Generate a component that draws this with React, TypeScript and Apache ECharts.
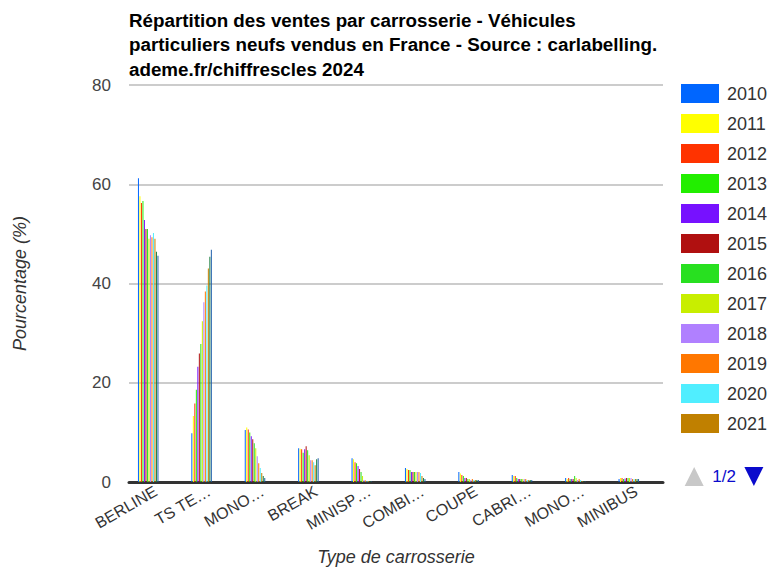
import React, { useEffect, useRef } from "react";
import * as echarts from "echarts";

const categories = [
  "BERLINE",
  "TS TERRAINS/CHEMINS",
  "MONOSPACE COMPACT",
  "BREAK",
  "MINISPACE",
  "COMBISPACES",
  "COUPE",
  "CABRIOLET",
  "MONOSPACE",
  "MINIBUS",
];

const years = ["2010", "2011", "2012", "2013", "2014", "2015", "2016", "2017", "2018", "2019", "2020", "2021", "2022", "2023"];

const v2010 = [61.2, 9.8, 10.5, 6.8, 4.8, 2.8, 2.0, 1.4, 0.8, 0.6];
const v2011 = [57.6, 13.3, 11.0, 6.7, 4.6, 2.6, 1.7, 1.2, 0.6, 0.8];
const v2012 = [56.2, 15.8, 10.6, 6.6, 4.0, 2.4, 1.4, 1.2, 0.8, 0.8];
const v2013 = [56.6, 18.6, 10.0, 5.9, 3.8, 2.4, 1.2, 0.8, 0.6, 0.6];
const v2014 = [52.8, 23.2, 9.2, 6.6, 3.2, 2.0, 0.8, 0.6, 0.6, 0.7];
const v2015 = [51.0, 25.9, 8.6, 7.2, 2.6, 2.0, 0.8, 0.6, 0.6, 0.8];
const v2016 = [51.0, 27.8, 7.8, 6.4, 2.0, 2.0, 0.6, 0.6, 1.2, 0.8];
const v2017 = [49.0, 32.4, 6.8, 5.4, 1.2, 2.0, 0.6, 0.6, 0.8, 0.8];
const v2018 = [49.7, 36.2, 5.2, 4.4, 0.4, 2.0, 0.4, 0.6, 0.4, 0.8];
const v2019 = [49.3, 38.4, 3.8, 4.4, 0.3, 2.0, 0.6, 0.6, 0.6, 0.6];
const v2020 = [50.2, 39.6, 2.8, 4.0, 0.2, 1.8, 0.4, 0.4, 0.4, 0.6];
const v2021 = [49.0, 43.0, 1.8, 3.4, 0.2, 1.2, 0.4, 0.4, 0.2, 0.6];
const v2022 = [46.4, 45.4, 1.2, 4.6, 0.2, 0.8, 0.4, 0.4, 0.1, 0.6];
const v2023 = [45.6, 46.8, 0.8, 4.8, 0.1, 0.6, 0.4, 0.4, 0.1, 0.6];

const values = [v2010, v2011, v2012, v2013, v2014, v2015, v2016, v2017, v2018, v2019, v2020, v2021, v2022, v2023];

const colors = [
  "#0066ff", "#ffff00", "#ff3300", "#22ee00", "#7711ff", "#b01010", "#28e020",
  "#c8ee00", "#b080ff", "#ff7700", "#50eeff", "#c08000", "#1b7f3e", "#1f5faa",
];

const yTicks = { min: 0, max: 80, interval: 20 };

const FONT = "'Liberation Sans', Arial, sans-serif";

export default function App() {
  const ref = useRef<HTMLDivElement>(null);
  useEffect(() => {
    document.body.style.margin = "0";
    const chart = echarts.init(ref.current!, undefined, { renderer: "svg" });
    const series: any[] = years.map((y, i) => ({
      name: y,
      type: "bar",
      data: values[i],
      barWidth: 1,
      barGap: "50%",
    }));
    // empty spacer column (no data) reproducing the reference's left-shifted bar groups
    series.push({
      name: "spacer",
      type: "bar",
      data: categories.map(() => null),
      barWidth: 14.5,
      barGap: "50%",
      silent: true,
      itemStyle: { color: "transparent" },
    });
    chart.setOption({
      animation: false,
      textStyle: { fontFamily: FONT },
      color: colors,
      title: {
        text: "Répartition des ventes par carrosserie - Véhicules\nparticuliers neufs vendus en France - Source : carlabelling.\nademe.fr/chiffrescles 2024",
        left: 124,
        top: 3,
        textStyle: { fontSize: 18.8, fontWeight: "bold", color: "#000", lineHeight: 24.5, fontFamily: FONT },
      },
      legend: {
        type: "scroll",
        orient: "vertical",
        left: 681,
        top: 84,
        height: 402,
        padding: 0,
        icon: "rect",
        itemWidth: 38,
        itemHeight: 19,
        itemGap: 11,
        textStyle: { fontSize: 18, color: "#333", fontFamily: FONT, padding: [0, 0, 0, 3], width: 35, overflow: "none" },
        pageIconColor: "#0a0acc",
        pageIconInactiveColor: "#c8c8c8",
        pageIconSize: 19,
        pageButtonItemGap: 1,
        pageButtonGap: 23,
        pageTextStyle: { color: "#0a0acc", fontSize: 17, fontFamily: FONT },
        data: years,
      },
      grid: { left: 129, right: 105, top: 85, bottom: 86, containLabel: false },
      xAxis: {
        type: "category",
        data: categories,
        name: "Type de carrosserie",
        nameLocation: "middle",
        nameGap: 66,
        nameTextStyle: { fontSize: 18, fontStyle: "italic", color: "#333", fontFamily: FONT },
        axisLine: { lineStyle: { color: "#333", width: 3 } },
        axisTick: { show: false },
        axisLabel: {
          rotate: 30,
          interval: 0,
          fontSize: 16,
          color: "#333",
          width: 72.8,
          overflow: "truncate",
          ellipsis: "…",
          margin: 8,
          fontFamily: FONT,
        },
      },
      yAxis: {
        type: "value",
        min: yTicks.min,
        max: yTicks.max,
        interval: yTicks.interval,
        name: "Pourcentage (%)",
        nameLocation: "middle",
        nameGap: 100,
        nameTextStyle: { fontSize: 18, fontStyle: "italic", color: "#333", fontFamily: FONT },
        axisLine: { show: false },
        axisTick: { show: false },
        axisLabel: { fontSize: 17, color: "#444", margin: 18, fontFamily: FONT },
        splitLine: { lineStyle: { color: "#cccccc", width: 2 } },
      },
      series,
    });
    return () => chart.dispose();
  }, []);
  return <div ref={ref} style={{ width: 768, height: 571 }} />;
}
